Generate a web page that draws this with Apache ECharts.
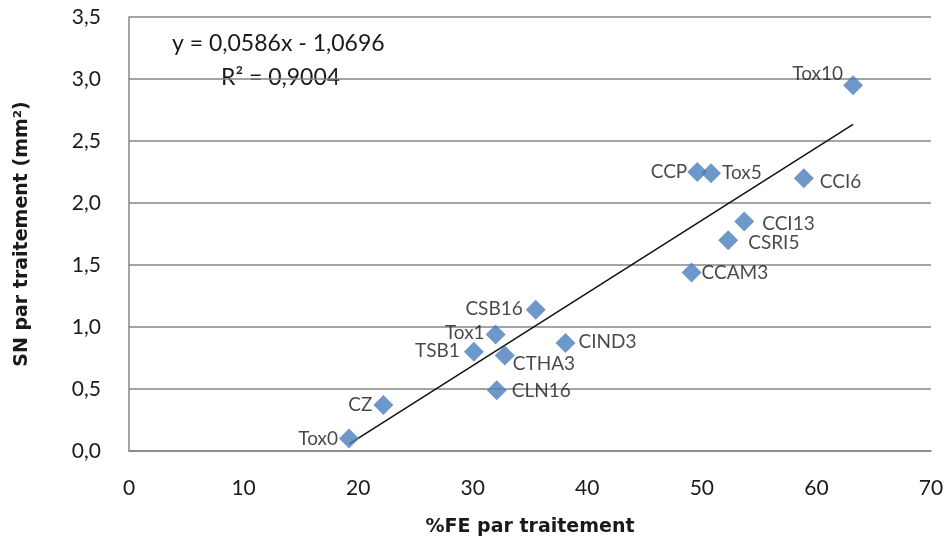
<!DOCTYPE html>
<html><head><meta charset="utf-8">
<script src="https://cdn.jsdelivr.net/npm/echarts@6/dist/echarts.min.js"></script>
<style>html,body{margin:0;padding:0;background:#fff}#c{width:950px;height:542px}</style>
</head><body><div id="c"></div>
<script>
// Data
var names = ['Tox0','CZ','TSB1','Tox1','CTHA3','CSB16','CIND3','CLN16','CCAM3','CCP','Tox5','CCI6','CCI13','CSRI5','Tox10'];
var feValues = [19.2,22.2,30.1,32.0,32.8,35.5,38.1,32.1,49.1,49.6,50.8,58.9,53.7,52.3,63.2];
var snValues = [0.10,0.37,0.80,0.94,0.77,1.14,0.87,0.49,1.44,2.25,2.24,2.20,1.85,1.70,2.95];
var slope = 0.0586, intercept = -1.0696;
var equationText = 'y = 0,0586x - 1,0696';
var r2Text = 'R² = 0,9004';

// Label placement (style only)
var labelStyle = {
  Tox0:{position:'left',distance:1,offset:[0,0]},
  CZ:{position:'left',distance:1,offset:[0,0]},
  TSB1:{position:'left',distance:4,offset:[0,-1]},
  Tox1:{position:'left',distance:1,offset:[0,-2]},
  CTHA3:{position:'right',distance:-2,offset:[0,8]},
  CSB16:{position:'left',distance:3,offset:[0,-1]},
  CIND3:{position:'right',distance:3,offset:[0,-1]},
  CLN16:{position:'right',distance:5,offset:[0,1]},
  CCAM3:{position:'right',distance:0,offset:[0,0]},
  CCP:{position:'left',distance:0,offset:[0,0]},
  Tox5:{position:'right',distance:1,offset:[0,0]},
  CCI6:{position:'right',distance:6,offset:[0,4]},
  CCI13:{position:'right',distance:8,offset:[0,2]},
  CSRI5:{position:'right',distance:10,offset:[0,3]},
  Tox10:{position:'left',distance:0,offset:[0,-11]}
};

var FONT = 'Lato';
var TITLEFONT = 'DejaVu Sans';
var pts = names.map(function(n,i){
  var ls = labelStyle[n];
  return {value:[feValues[i], snValues[i]], name:n,
    label:{show:true, formatter:n, position:ls.position, distance:ls.distance, offset:ls.offset}};
});
var xmin = Math.min.apply(null, feValues), xmax = Math.max.apply(null, feValues);
var trend = [[xmin, slope*xmin+intercept],[xmax, slope*xmax+intercept]];

var chart = echarts.init(document.getElementById('c'));
chart.setOption({
  animation:false,
  textStyle:{fontFamily:FONT},
  grid:{left:129, right:19, top:17, bottom:91},
  xAxis:{type:'value', min:0, max:70, interval:10,
    axisLine:{show:true, onZero:false, lineStyle:{color:'#868686', width:1.5}},
    axisTick:{show:false}, splitLine:{show:false},
    axisLabel:{color:'#1a1a1a', fontSize:21, fontFamily:FONT, margin:27},
    name:'%FE par traitement', nameLocation:'middle', nameGap:67,
    nameTextStyle:{fontSize:19, fontWeight:'bold', color:'#1a1a1a', fontFamily:TITLEFONT}},
  yAxis:{type:'value', min:0, max:3.5, interval:0.5,
    axisLine:{show:true, lineStyle:{color:'#868686', width:1.5}},
    axisTick:{show:false},
    splitLine:{show:true, lineStyle:{color:'#868686', width:1.5}},
    axisLabel:{color:'#1a1a1a', fontSize:21, fontFamily:FONT, margin:28,
      formatter:function(v){return v.toFixed(1).replace('.',',');}},
    name:'SN par traitement (mm²)', nameLocation:'middle', nameGap:97,
    nameTextStyle:{fontSize:19, fontWeight:'bold', color:'#1a1a1a', fontFamily:TITLEFONT}},
  graphic:[
    {type:'text', left:172, top:32, style:{text:equationText, fontSize:23, fontFamily:FONT, fill:'#1a1a1a'}},
    {type:'text', left:221, top:66, style:{text:r2Text, fontSize:23, fontFamily:FONT, fill:'#1a1a1a'}}
  ],
  series:[
    {type:'line', data:trend, symbol:'none', lineStyle:{color:'#111', width:1.5}, z:3, silent:true},
    {type:'scatter', data:pts, symbol:'diamond', symbolSize:[20,20],
      itemStyle:{color:'#4a7ebb'}, z:4,
      label:{color:'#1a1a1a', fontSize:19, fontFamily:FONT}}
  ]
});
</script></body></html>
